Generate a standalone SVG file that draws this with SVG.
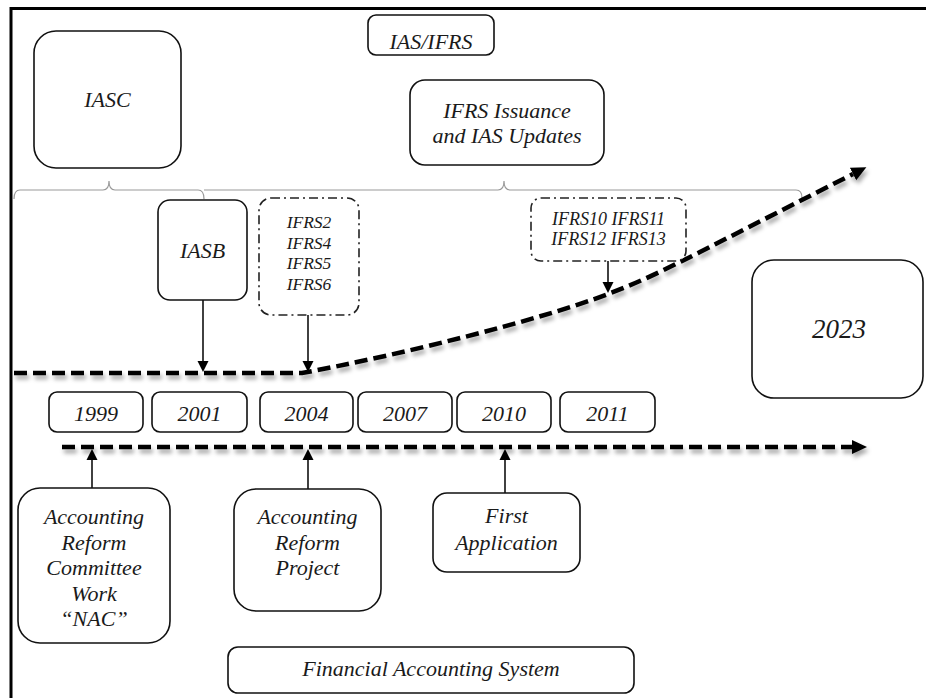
<svg xmlns="http://www.w3.org/2000/svg" width="926" height="698" viewBox="0 0 926 698">
<style>
.box{fill:#fff;stroke:#111;stroke-width:1.6}
.dd{fill:#fff;stroke:#222;stroke-width:1.6;stroke-dasharray:9 4 2 4}
text{font-family:'Liberation Serif','DejaVu Serif',serif;font-style:italic;fill:#1a1a1a;text-anchor:middle}
.s22{font-size:22px}
.s18{font-size:18px}
.brace{fill:none;stroke:#9a9a9a;stroke-width:1.2}
.thin{fill:none;stroke:#111;stroke-width:1.6}
.thick{fill:none;stroke:#000;stroke-width:4.5;stroke-dasharray:13 6}
</style>
<defs>
<marker id="sa" markerUnits="userSpaceOnUse" markerWidth="12" markerHeight="12" refX="0" refY="6" orient="auto">
<path d="M0,0.5 L11,6 L0,11.5 z" fill="#000"/>
</marker>
<marker id="ba" markerUnits="userSpaceOnUse" markerWidth="16" markerHeight="16" refX="0" refY="8" orient="auto">
<path d="M0,1 L15,8 L0,15 z" fill="#000"/>
</marker>
<filter id="sh" filterUnits="userSpaceOnUse" x="0" y="0" width="926" height="698">
<feDropShadow dx="2" dy="4" stdDeviation="2" flood-color="#000" flood-opacity="0.35"/>
</filter>
</defs>
<rect x="0" y="0" width="926" height="698" fill="#fff"/>
<rect x="11" y="8.5" width="1000" height="1000" fill="none" stroke="#000" stroke-width="3"/>

<g id="connectors">
<path class="brace" d="M14,199 Q14,190 20,190 L103,190 Q109,190 109,181 Q109,190 115,190 L198,190 Q204,190 204,199"/>
<path class="brace" d="M204,190 L498,190 Q504,190 504,181 Q504,190 510,190 L796,190 Q802,190 802,198"/>
<path class="thick" filter="url(#sh)" marker-end="url(#ba)" d="M14,373 L302,373 C400,355 540,320 608,294 C640,282 660,272 700,252 L853,174"/>
<path class="thick" filter="url(#sh)" marker-end="url(#ba)" d="M62,447 L852,447"/>
<path class="thin" marker-end="url(#sa)" d="M203,300 L203,361"/>
<path class="thin" marker-end="url(#sa)" d="M308,315 L308,361"/>
<path class="thin" marker-end="url(#sa)" d="M608,261 L608,282"/>
<path class="thin" marker-end="url(#sa)" d="M92,488 L92,460"/>
<path class="thin" marker-end="url(#sa)" d="M308,489 L308,460"/>
<path class="thin" marker-end="url(#sa)" d="M505,493 L505,460"/>
</g>

<g id="ias-ifrs"><rect class="box" x="368" y="15" width="126" height="40" rx="8"/><text class="s22" x="431" y="49">IAS/IFRS</text></g>
<g id="iasc"><rect class="box" x="34" y="31" width="147" height="137" rx="22"/><text class="s22" x="107.5" y="107">IASC</text></g>
<g id="ifrs-issuance"><rect class="box" x="410" y="80" width="194" height="85" rx="15"/><text class="s22" x="507" y="118">IFRS Issuance</text><text class="s22" x="507" y="143">and IAS Updates</text></g>
<g id="iasb"><rect class="box" x="158" y="200" width="89" height="100" rx="12"/><text class="s22" x="202.5" y="258">IASB</text></g>
<g id="ifrs2-6"><rect class="dd" x="259" y="198" width="100" height="117" rx="12"/><text font-size="17.5" x="309" y="228">IFRS2</text><text font-size="17.5" x="309" y="248.5">IFRS4</text><text font-size="17.5" x="309" y="269">IFRS5</text><text font-size="17.5" x="309" y="289.5">IFRS6</text></g>
<g id="ifrs10-13"><rect class="dd" x="531" y="198" width="155" height="63" rx="10"/><text class="s18" x="608.5" y="225">IFRS10 IFRS11</text><text class="s18" x="608.5" y="245">IFRS12 IFRS13</text></g>
<g id="y2023"><rect class="box" x="752" y="260" width="171" height="138" rx="22"/><text font-size="27" x="839" y="338">2023</text></g>

<g id="y1999"><rect class="box" x="49" y="392" width="94" height="40" rx="8"/><text class="s22" x="96" y="421">1999</text></g>
<g id="y2001"><rect class="box" x="152" y="392" width="95" height="40" rx="8"/><text class="s22" x="199.5" y="421">2001</text></g>
<g id="y2004"><rect class="box" x="260" y="392" width="93" height="40" rx="8"/><text class="s22" x="306.5" y="421">2004</text></g>
<g id="y2007"><rect class="box" x="358" y="392" width="94" height="40" rx="8"/><text class="s22" x="405" y="421">2007</text></g>
<g id="y2010"><rect class="box" x="457" y="392" width="94" height="40" rx="8"/><text class="s22" x="504" y="421">2010</text></g>
<g id="y2011"><rect class="box" x="560" y="392" width="95" height="40" rx="8"/><text class="s22" x="607.5" y="421">2011</text></g>

<g id="committee"><rect class="box" x="18" y="488" width="152" height="155" rx="22"/>
<text class="s22" x="94" y="524">Accounting</text><text class="s22" x="94" y="550">Reform</text><text class="s22" x="94" y="575">Committee</text><text class="s22" x="94" y="601">Work</text><text class="s22" x="94" y="626">“NAC”</text></g>
<g id="project"><rect class="box" x="234" y="489" width="147" height="122" rx="22"/>
<text class="s22" x="307.5" y="524">Accounting</text><text class="s22" x="307.5" y="550">Reform</text><text class="s22" x="307.5" y="575">Project</text></g>
<g id="first-app"><rect class="box" x="433" y="493" width="147" height="79" rx="14"/>
<text class="s22" x="506.5" y="523">First</text><text class="s22" x="506.5" y="550">Application</text></g>
<g id="fas"><rect class="box" x="228" y="647" width="406" height="46" rx="10"/><text class="s22" x="431" y="676">Financial Accounting System</text></g>
</svg>
